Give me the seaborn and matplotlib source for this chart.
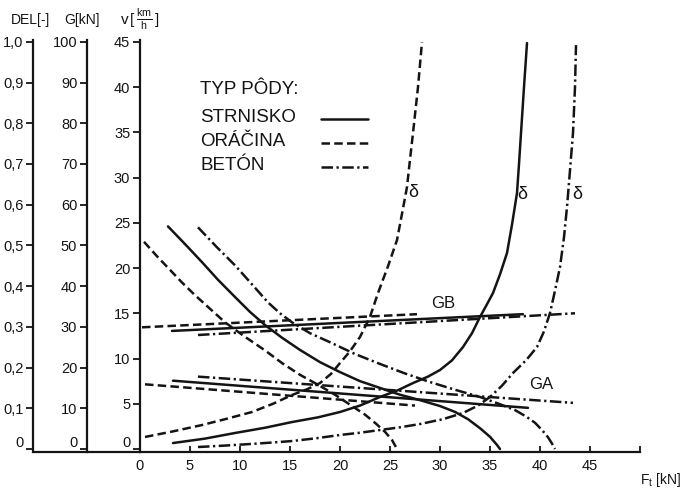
import numpy as np
import pandas as pd
import matplotlib
matplotlib.use("Agg")
import matplotlib.pyplot as plt
import matplotlib.transforms as mtransforms
import seaborn as sns
from matplotlib.lines import Line2D

sns.set_style("white")
plt.rcParams["font.family"] = ["Liberation Sans", "DejaVu Sans"]
plt.rcParams["mathtext.fontset"] = "custom"
plt.rcParams["mathtext.rm"] = "Liberation Sans"
plt.rcParams["mathtext.it"] = "Liberation Sans"

INK = "#141414"
LW = 1.8

soils = ["STRNISKO", "ORÁČINA", "BETÓN"]

# ---- speed curves v = f(Ft) ----
v_str_x = [2.8, 4.5, 6.2, 7.8, 9.5, 11.0, 12.5, 14.2, 16.0, 18.0, 20.0, 22.0,
           24.0, 26.0, 28.0, 30.0, 31.5, 32.8, 34.0, 35.0, 35.7, 36.0]
v_str_y = [24.6, 22.65, 20.65, 18.7, 16.8, 15.15, 13.7, 12.3, 10.95, 9.6, 8.5, 7.5,
           6.75, 6.0, 5.4, 4.75, 4.1, 3.3, 2.3, 1.35, 0.45, 0.0]
v_ora_x = [0.4, 1.7, 3.0, 4.2, 5.5, 7.0, 8.5, 10.5, 12.5, 14.2, 16.0, 17.8,
           19.5, 21.0, 22.5, 23.6, 24.5, 25.2, 25.7]
v_ora_y = [22.9, 21.3, 19.8, 18.4, 17.0, 15.5, 14.0, 12.4, 10.9, 9.5, 8.2, 7.1,
           6.0, 4.9, 3.8, 2.8, 1.9, 1.0, 0.0]
v_bet_x = [5.8, 7.6, 9.5, 11.2, 12.8, 14.0, 15.2, 17.0, 19.0, 21.5, 24.0, 26.5,
           29.0, 31.5, 34.0, 36.0, 37.5, 38.6, 39.5, 40.2, 40.8, 41.2, 41.5]
v_bet_y = [24.5, 22.4, 20.3, 18.2, 16.2, 15.0, 14.0, 12.8, 11.8, 10.5, 9.4, 8.35,
           7.4, 6.55, 5.75, 4.95, 4.3, 3.6, 2.9, 2.1, 1.3, 0.6, 0.0]

# ---- slip curves delta = f(Ft) ----
d_str_x = [3.3, 6.5, 9.5, 12.5, 15.2, 17.8, 20.0, 22.0, 24.0, 25.8, 27.3, 28.8,
           30.0, 31.2, 32.3, 33.2, 34.0, 34.7, 35.3, 36.0, 36.7, 37.2, 37.7,
           37.9, 38.1, 38.4, 38.7]
d_str_y = [0.66, 1.15, 1.77, 2.35, 2.98, 3.5, 4.09, 4.8, 5.75, 6.5, 7.29, 8.0,
           8.73, 9.8, 11.27, 12.8, 14.59, 16.0, 17.24, 19.3, 21.66, 24.8, 28.29,
           31.5, 34.9, 40.0, 44.86]
d_ora_x = [0.5, 3.3, 6.2, 8.7, 11.2, 13.3, 15.2, 16.7, 18.0, 19.1, 20.0, 21.0,
           22.0, 23.0, 23.8, 24.8, 25.7, 26.2, 26.7, 27.0, 27.3, 27.8, 28.2]
d_ora_y = [1.33, 1.95, 2.65, 3.35, 4.09, 5.0, 5.97, 6.6, 7.29, 8.3, 9.5, 10.8,
           12.38, 14.6, 17.24, 20.2, 23.09, 26.0, 28.95, 32.0, 34.92, 40.0, 44.97]
d_bet_x = [5.8, 8.5, 11.0, 13.0, 15.2, 17.7, 20.0, 22.0, 24.0, 26.0, 28.0, 30.3,
           32.3, 33.8, 35.0, 36.2, 37.3, 38.6, 39.7, 40.4, 41.0, 41.5, 42.0,
           42.4, 42.7, 43.0, 43.3, 43.5, 43.6]
d_bet_y = [0.22, 0.38, 0.55, 0.7, 0.88, 1.2, 1.55, 1.8, 2.1, 2.4, 2.76, 3.3,
           3.98, 4.8, 5.75, 7.0, 8.4, 9.8, 11.27, 13.0, 15.03, 17.5, 20.11,
           23.4, 26.74, 30.8, 34.92, 40.0, 44.64]

# ---- axle loads GB (rear) and GA (front) ----
gb_str_x = [3.2, 38.3]
gb_str_y = [13.05, 14.9]
gb_ora_x = [0.2, 27.7]
gb_ora_y = [13.45, 14.9]
gb_bet_x = [5.8, 43.5]
gb_bet_y = [12.6, 15.0]

ga_str_x = [3.3, 38.8]
ga_str_y = [7.55, 4.55]
ga_ora_x = [0.5, 27.5]
ga_ora_y = [7.15, 4.8]
ga_bet_x = [5.8, 43.3]
ga_bet_y = [8.0, 5.1]

x_ticks = [0, 5, 10, 15, 20, 25, 30, 35, 40, 45, 50]
x_labels = ["0", "5", "10", "15", "20", "25", "30", "35", "40", "45", ""]
v_ticks = [0, 5, 10, 15, 20, 25, 30, 35, 40, 45]
g_ticks = [0, 10, 20, 30, 40, 50, 60, 70, 80, 90, 100]
del_ticks = [0.0, 0.1, 0.2, 0.3, 0.4, 0.5, 0.6, 0.7, 0.8, 0.9, 1.0]
del_labels = ["0", "0,1", "0,2", "0,3", "0,4", "0,5", "0,6", "0,7", "0,8", "0,9", "1,0"]

curves = [
    ("v_str", "STRNISKO", v_str_x, v_str_y),
    ("v_ora", "ORÁČINA", v_ora_x, v_ora_y),
    ("v_bet", "BETÓN", v_bet_x, v_bet_y),
    ("d_str", "STRNISKO", d_str_x, d_str_y),
    ("d_ora", "ORÁČINA", d_ora_x, d_ora_y),
    ("d_bet", "BETÓN", d_bet_x, d_bet_y),
    ("gb_str", "STRNISKO", gb_str_x, gb_str_y),
    ("gb_ora", "ORÁČINA", gb_ora_x, gb_ora_y),
    ("gb_bet", "BETÓN", gb_bet_x, gb_bet_y),
    ("ga_str", "STRNISKO", ga_str_x, ga_str_y),
    ("ga_ora", "ORÁČINA", ga_ora_x, ga_ora_y),
    ("ga_bet", "BETÓN", ga_bet_x, ga_bet_y),
]
rows = []
for name, soil, xs, ys in curves:
    for a, b in zip(xs, ys):
        rows.append({"curve": name, "soil": soil, "Ft": a, "val": b})
df = pd.DataFrame(rows)

dash_map = {"STRNISKO": "", "ORÁČINA": (3.4, 1.7), "BETÓN": (4.6, 1.4, 0.9, 1.4)}

fig = plt.figure(figsize=(6.84, 4.91), dpi=100)
fig.patch.set_facecolor("white")
ax = fig.add_axes([140 / 684, 39 / 491, 500 / 684, 412 / 491])

sns.lineplot(data=df, x="Ft", y="val", units="curve", estimator=None,
             style="soil", dashes=dash_map, color=INK, linewidth=LW,
             sort=False, legend=False, ax=ax)

ax.set_xlim(0, 50)
ax.set_ylim(-0.33, 45.2)
ax.set_xlabel("")
ax.set_ylabel("")
for s in ["top", "right"]:
    ax.spines[s].set_visible(False)
for s in ["left", "bottom"]:
    ax.spines[s].set_linewidth(1.6)
    ax.spines[s].set_color(INK)

ax.set_xticks(x_ticks)
ax.set_xticklabels(x_labels)
ax.set_yticks(v_ticks)
ax.set_yticklabels([str(t) for t in v_ticks])
ax.tick_params(axis="x", direction="in", length=4, width=1.3, labelsize=10.5,
               pad=5, colors=INK, bottom=True)
ax.tick_params(axis="y", direction="out", length=5, width=1.3, labelsize=10.5,
               pad=2, colors=INK, left=True)

# baseline continuing to the left axes
ax.add_line(Line2D([-0.214, 0], [0, 0], transform=ax.transAxes, color=INK,
                   lw=1.6, clip_on=False))

# G axis
sec_g = ax.secondary_yaxis(-0.106, functions=(lambda v: v * 100.0 / 45.0,
                                              lambda g: g * 45.0 / 100.0))
sec_g.set_yticks(g_ticks)
sec_g.set_yticklabels([str(t) for t in g_ticks])
sec_g.tick_params(direction="out", length=5, width=1.3, labelsize=10.5, pad=2, colors=INK)
for s in sec_g.spines.values():
    s.set_linewidth(1.6)
    s.set_color(INK)

# DEL axis
sec_d = ax.secondary_yaxis(-0.214, functions=(lambda v: v / 45.0,
                                              lambda d: d * 45.0))
sec_d.set_yticks(del_ticks)
sec_d.set_yticklabels(del_labels)
sec_d.tick_params(direction="out", length=5, width=1.3, labelsize=10.5, pad=2, colors=INK)
for s in sec_d.spines.values():
    s.set_linewidth(1.6)
    s.set_color(INK)

# axis titles
fig.text(31 / 684, 1 - 20 / 491, "DEL[-]", ha="center", va="center", fontsize=10, color=INK)
fig.text(82 / 684, 1 - 20 / 491, "G[kN]", ha="center", va="center", fontsize=10, color=INK)
fig.text(140 / 684, 1 - 20 / 491, r"v$\,[\,\frac{\mathrm{km}}{\mathrm{h}}\,]$",
         ha="center", va="center", fontsize=11, color=INK)
fig.text(661 / 684, 1 - 480 / 491, r"F$_\mathrm{t}$ [kN]", ha="center", va="center",
         fontsize=10, color=INK)

# curve annotations
ax.text(27.3, 28.3, "δ", fontsize=13, ha="center", va="center", color=INK)
ax.text(38.2, 28.1, "δ", fontsize=13, ha="center", va="center", color=INK)
ax.text(43.7, 28.1, "δ", fontsize=13, ha="center", va="center", color=INK)
ax.text(30.3, 16.1, "GB", fontsize=12, ha="center", va="center", color=INK)
ax.text(40.1, 7.1, "GA", fontsize=12, ha="center", va="center", color=INK)

# legend (labels left-aligned, key lines to the right)
leg_title_y = (452 - 90) / 412
row_y = [(452 - 117) / 412, (452 - 141) / 412, (452 - 165) / 412]
ax.text(0.12, leg_title_y, "TYP PÔDY:", transform=ax.transAxes, fontsize=13.5,
        ha="left", va="center", color=INK)
key_styles = [dict(linestyle="-"), dict(dashes=dash_map["ORÁČINA"]),
              dict(dashes=dash_map["BETÓN"])]
for lab, yy, st in zip(soils, row_y, key_styles):
    ax.text(0.12, yy, lab, transform=ax.transAxes, fontsize=13.5,
            ha="left", va="center", color=INK)
    ax.add_line(Line2D([0.362, 0.456], [yy - 0.004, yy - 0.004],
                       transform=ax.transAxes, color=INK, lw=LW, **st))

# the "0" labels of the vertical scales sit a little above the base line
fig.canvas.draw()
lift = mtransforms.ScaledTranslation(0, 0.08, fig.dpi_scale_trans)
for a in (ax, sec_g, sec_d):
    t0 = a.yaxis.get_major_ticks()[0]
    t0.label1.set_transform(t0.label1.get_transform() + lift)

fig.savefig("out.png", dpi=100, facecolor="white")
